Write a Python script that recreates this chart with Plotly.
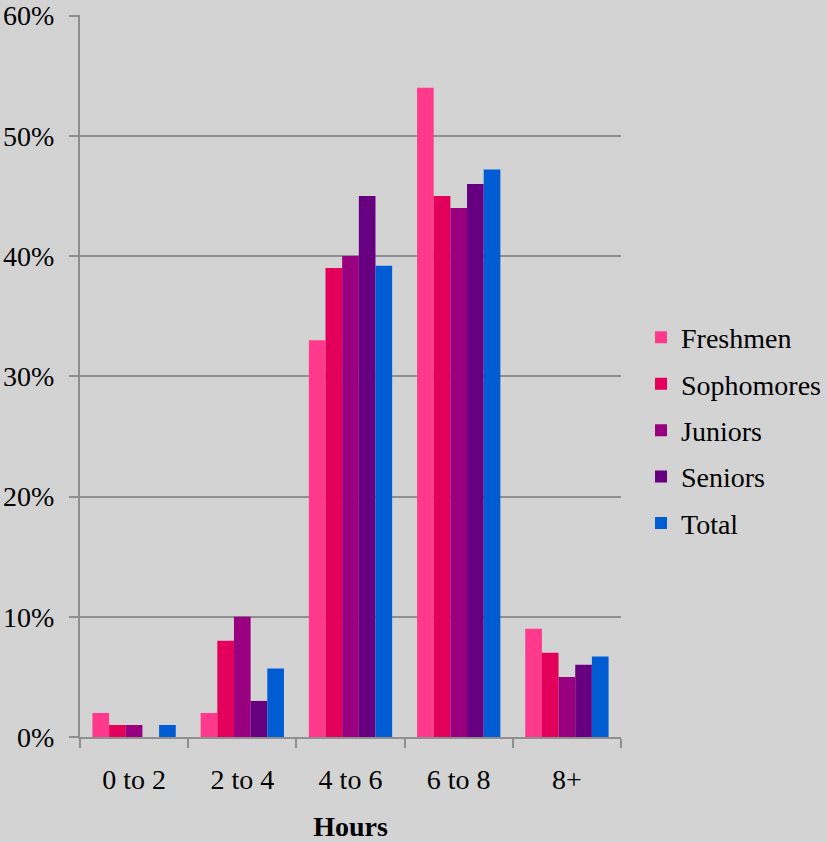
import plotly.graph_objects as go

hours = ["0 to 2", "2 to 4", "4 to 6", "6 to 8", "8+"]

freshmen = [2, 2, 33, 54, 9]
sophomores = [1, 8, 39, 45, 7]
juniors = [1, 10, 40, 44, 5]
seniors = [0, 3, 45, 46, 6]
total = [1, 5.7, 39.2, 47.2, 6.7]

series_names = ["Freshmen", "Sophomores", "Juniors", "Seniors", "Total"]
series_values = [freshmen, sophomores, juniors, seniors, total]
series_colors = ["#FF3A8C", "#E3005B", "#99007F", "#660080", "#005CD3"]

y_ticks = [0, 10, 20, 30, 40, 50, 60]
y_tick_labels = ["0%", "10%", "20%", "30%", "40%", "50%", "60%"]

font_family = "Liberation Serif, DejaVu Serif, serif"
grid_color = "#8F8F8F"
fs = 28

fig = go.Figure()
for name, vals, color in zip(series_names, series_values, series_colors):
    fig.add_trace(go.Bar(
        name=name,
        x=hours,
        y=vals,
        marker=dict(color=color, line=dict(width=0)),
        legendgroup=name,
    ))

fig.update_layout(
    width=827,
    height=842,
    margin=dict(l=80, r=206, t=15, b=105, autoexpand=False),
    paper_bgcolor="#D3D3D3",
    plot_bgcolor="#D3D3D3",
    barmode="group",
    bargap=0.23,
    bargroupgap=0,
    font=dict(family=font_family, size=fs, color="#000000"),
    showlegend=True,
    legend=dict(
        x=1.037, xanchor="left", xref="paper",
        y=0.425, yanchor="middle",
        bgcolor="rgba(0,0,0,0)",
        font=dict(size=fs, family=font_family),
        tracegroupgap=7,
        itemwidth=30,
    ),
    xaxis=dict(
        type="category",
        automargin=False,
        tickson="boundaries",
        ticks="outside",
        ticklen=9,
        tickwidth=2,
        tickcolor=grid_color,
        ticklabelstandoff=16,
        showline=True,
        linecolor=grid_color,
        linewidth=2,
        showgrid=False,
        tickfont=dict(size=fs, family=font_family),
        title=dict(text="<b>Hours</b>", font=dict(size=fs, family=font_family), standoff=35),
    ),
    yaxis=dict(
        automargin=False,
        range=[0, 60.05],
        tickmode="array",
        tickvals=y_ticks,
        ticktext=y_tick_labels,
        ticks="outside",
        ticklen=9,
        tickwidth=2,
        tickcolor=grid_color,
        ticklabelstandoff=9,
        ticklabeloverflow="allow",
        showline=True,
        linecolor=grid_color,
        linewidth=2,
        showgrid=True,
        gridcolor=grid_color,
        gridwidth=2,
        zeroline=False,
        tickfont=dict(size=fs, family=font_family),
    ),
)

fig.write_html("out.html")
